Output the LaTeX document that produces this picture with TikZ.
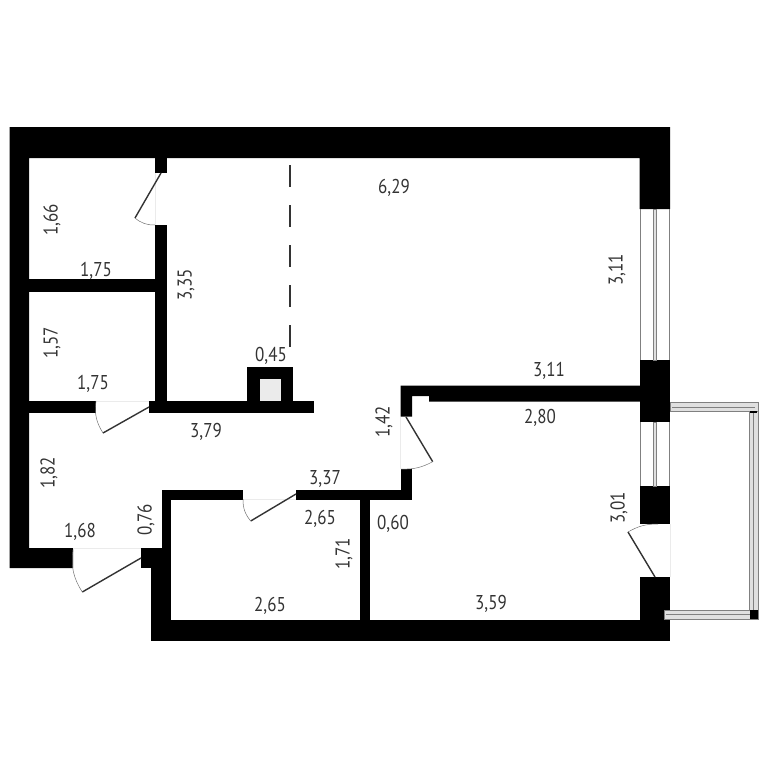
\documentclass[tikz,border=0pt]{standalone}
\usepackage{fontspec}
\newfontfamily\sizefont[FakeStretch=.85,Numbers=Lining]{PT Sans}
\tikzset{
  wall/.style={fill=black},
  leaf/.style={draw=black!80,line width=1.4pt},
  swing/.style={draw=black!55,line width=.5pt},
  jamb/.style={draw=black!8,line width=.6pt},
  pane/.style={draw=black!50,line width=1pt},
  rail/.style={draw=black!50,fill=black!12,line width=1pt},
  sizetext/.style={font=\sizefont\fontsize{20}{20}\selectfont,text=black!80,inner sep=0pt},
  size/.style={sizetext,yshift=-1.5pt},
  sizev/.style={sizetext,rotate=90},
}
\begin{document}
\begin{tikzpicture}[x=1pt,y=-1pt]
\useasboundingbox (0,0) rectangle (768,768);
%outer and inner walls
\draw [wall,draw=none] (9.5,127) -- (670,127) -- (670,209) -- (639.5,209) -- (639.5,158) -- (29,158) -- (29,548) -- (73,548) -- (73,568) -- (9.5,568) -- cycle;
\fill [wall] (155,158) rectangle (167,173);
\fill [wall] (155,225) rectangle (167,413);
\fill [wall] (29,279) rectangle (155,291.5);
\fill [wall] (29,401) rectangle (96,413);
\fill [wall] (149,401) rectangle (314,413);
\fill [wall] (247,367) rectangle (293,401);
\fill [black!8] (259.5,379) rectangle (281,401);
%bathroom
\fill [wall] (141,548) rectangle (171,568);
\fill [wall] (151,568) rectangle (171,640);
\fill [wall] (162,490) rectangle (171,548);
\fill [wall] (162,490) rectangle (243,499.5);
\fill [wall] (296,490) rectangle (412,499.5);
\fill [wall] (401,469) rectangle (412,499.5);
\fill [wall] (360,499) rectangle (369.5,620);
\fill [wall] (151,620) rectangle (670,640.5);
%wall to the right room
\draw [wall,draw=none] (400.7,385.5) -- (640,385.5) -- (640,401.5) -- (429,401.5) -- (429,396) -- (412,396) -- (412,416.5) -- (400.7,416.5) -- cycle;
%piers of the right wall
\fill [wall] (639.5,360) rectangle (670,422);
\fill [wall] (639.5,486) rectangle (670,524);
\fill [wall] (639.5,577) rectangle (670,640.5);
%windows
\foreach \ya/\yb in {209/360,422/486} {
  \draw [pane] (640,\ya) -- (640,\yb) (669.5,\ya) -- (669.5,\yb);
  \draw [rail] (653,\ya) rectangle (656.5,\yb);
}
%balcony
\draw [rail] (670,402.5) rectangle (758,411.5);
\draw [rail] (749.5,411.5) rectangle (758,610);
\draw [rail] (664,610) rectangle (758,619);
\draw [pane] (672,407) -- (755,407) (753.7,412) -- (753.7,610) (666,614.5) -- (750,614.5);
\fill [wall] (750,610) rectangle (758,619);
\fill [wall] (749.5,410.5) rectangle (757,413);
%door openings
\draw [jamb] (155,173) -- (155,225) (96,401) -- (149,401) (243,499.5) -- (296,499.5) (73,548) -- (141,548) (400.7,416.5) -- (400.7,469) (670,524) -- (670,577);
%doors
\coordinate (closeta) at (161,173);
\coordinate (closetb) at (135,218);
\coordinate (closetc) at (155,225);
\draw [leaf] (closeta) -- (closetb);
\draw [swing] (closetb) to [bend right=20] (closetc);
\coordinate (storea) at (149,407);
\coordinate (storeb) at (103,433);
\coordinate (storec) at (96,401);
\draw [leaf] (storea) -- (storeb);
\draw [swing] (storeb) to [bend left=20] (storec);
\coordinate (batha) at (296,494);
\coordinate (bathb) at (250.7,521);
\coordinate (bathc) at (243,499);
\draw [leaf] (batha) -- (bathb);
\draw [swing] (bathb) to [bend left=20] (bathc);
\coordinate (entrya) at (141,558);
\coordinate (entryb) at (82.3,592);
\coordinate (entryc) at (73,550);
\draw [leaf] (entrya) -- (entryb);
\draw [swing] (entryb) to [bend left=20] (entryc);
\coordinate (rooma) at (406,417);
\coordinate (roomb) at (432.7,461.7);
\coordinate (roomc) at (401,469);
\draw [leaf] (rooma) -- (roomb);
\draw [swing] (roomb) to [bend left=15] (roomc);
\coordinate (balcona) at (655,577);
\coordinate (balconb) at (628,532);
\coordinate (balconc) at (658,524);
\draw [leaf] (balcona) -- (balconb);
\draw [swing] (balconb) to [bend left=15] (balconc);
%dashed line of the kitchen
\coordinate (kitchena) at (290,165);
\coordinate (kitchenb) at (290,356);
\draw [black!80,line width=1.4pt,dash pattern=on 22pt off 18pt] (kitchena) -- (kitchenb);
%sizes
\node [size] (kitchenw) at (394,186) {6,29};
\node [sizev] (closetah) at (52,220) {1,66};
\node [size] (closetaw) at (96,269) {1,75};
\node [sizev] (halluph) at (186,285) {3,35};
\node [sizev] (closetbh) at (52,343) {1,57};
\node [size] (closetbw) at (93,382) {1,75};
\node [size] (flue) at (271,354) {0,45};
\node [size] (hallw) at (206,430) {3,79};
\node [sizev] (kitchenh) at (617,270) {3,11};
\node [size] (kitchenn) at (549,369) {3,11};
\node [size] (roomn) at (540,416) {2,80};
\node [sizev] (hallh) at (384,422) {1,42};
\node [sizev] (entryh) at (49,473) {1,82};
\node [size] (halls) at (325,477) {3,37};
\node [size] (bathn) at (320,517) {2,65};
\node [size] (niche) at (393,522) {0,60};
\node [sizev] (roomh) at (619,508) {3,01};
\node [sizev] (bathh) at (344,554) {1,71};
\node [size] (baths) at (270,604) {2,65};
\node [size] (rooms) at (491,602) {3,59};
\node [size] (entryw) at (80,530) {1,68};
\node [sizev] (entryd) at (146,520) {0,76};
\end{tikzpicture}
\end{document}
